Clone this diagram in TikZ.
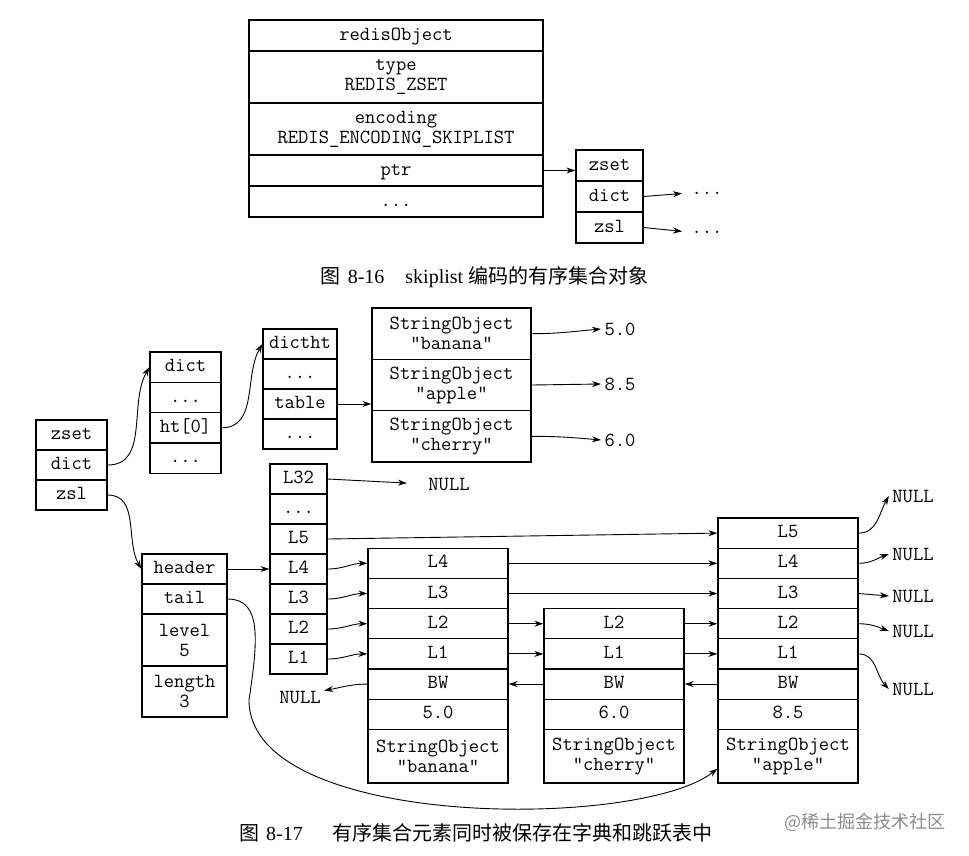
\documentclass[tikz,border=0pt]{standalone}
\usepackage{fontspec}
\setmainfont{Liberation Serif}
\newfontfamily\cjk{Noto Sans CJK SC}
\usetikzlibrary{arrows.meta}
\begin{document}
\begin{tikzpicture}[x=1pt,y=1pt,
		cell/.style={draw,line width=1.3pt,inner sep=0pt,font=\ttfamily\fontsize{20}{20}\selectfont,text height=12pt,text depth=3pt},
		tallcell/.style={draw,line width=1.3pt,inner sep=0pt,font=\ttfamily\fontsize{20}{20}\selectfont,align=center},
		word/.style={font=\ttfamily\fontsize{20}{20}\selectfont},
		caption/.style={font=\fontsize{20}{24}\selectfont},
		link/.style={->,line width=0.9pt},
		>={Stealth[length=9pt,width=6pt]}]
		\useasboundingbox (0,0) rectangle (969,-855);

		% figure 8-16
		\node[cell,minimum width=294pt,minimum height=31pt](robj) at (396,-35.5) {redisObject};
		\node[tallcell,minimum width=294pt,minimum height=52pt](rtype) at (396,-77) {type\\REDIS\_ZSET};
		\node[tallcell,minimum width=294pt,minimum height=52pt](renc) at (396,-129) {encoding\\REDIS\_ENCODING\_SKIPLIST};
		\node[cell,minimum width=294pt,minimum height=31pt](rptr) at (396,-170.5) {ptr};
		\node[cell,minimum width=294pt,minimum height=31pt](rmore) at (396,-201.5) {...};

		\node[cell,minimum width=67pt,minimum height=31pt](azset) at (609.5,-165.5) {zset};
		\node[cell,minimum width=67pt,minimum height=31pt](adict) at (609.5,-196.5) {dict};
		\node[cell,minimum width=67pt,minimum height=31pt](azsl) at (609.5,-227.5) {zsl};
		\node[word](adictmore) at (707,-193) {...};
		\node[word](azslmore) at (707,-232) {...};

		\path [link](rptr.east) edge (rptr.east -| azset.west);
		\path [link](adict.east) edge[shorten >=6pt] (adictmore.west);
		\path [link](azsl.east) edge[shorten >=6pt] (azslmore.west);

		\node[caption](cap1) at (484.5,-277) {{\cjk 图}\hspace{7pt}8-16\hspace{21pt}skiplist {\cjk 编码的有序集合对象}};

		% figure 8-17: zset, dict, dictht
		\node[cell,minimum width=71pt,minimum height=30pt](bzset) at (71.5,-435) {zset};
		\node[cell,minimum width=71pt,minimum height=30pt](bdict) at (71.5,-465) {dict};
		\node[cell,minimum width=71pt,minimum height=30pt](bzsl) at (71.5,-495) {zsl};

		\node[cell,minimum width=71pt,minimum height=30.3pt](ddict) at (185.5,-367.2) {dict};
		\node[cell,minimum width=71pt,minimum height=30.3pt](dmore1) at (185.5,-397.5) {...};
		\node[cell,minimum width=71pt,minimum height=30.3pt](dht) at (185.5,-427.8) {ht[0]};
		\node[cell,minimum width=71pt,minimum height=30.3pt](dmore2) at (185.5,-458) {...};

		\node[cell,minimum width=74pt,minimum height=30pt](tdictht) at (300,-344) {dictht};
		\node[cell,minimum width=74pt,minimum height=30pt](tmore1) at (300,-374) {...};
		\node[cell,minimum width=74pt,minimum height=30pt](ttable) at (300,-404) {table};
		\node[cell,minimum width=74pt,minimum height=30pt](tmore2) at (300,-434) {...};

		\node[tallcell,minimum width=159pt,minimum height=51.3pt](sbanana) at (451.5,-333.7) {StringObject\\"banana"};
		\node[tallcell,minimum width=159pt,minimum height=51.3pt](sapple) at (451.5,-385) {StringObject\\"apple"};
		\node[tallcell,minimum width=159pt,minimum height=51.3pt](scherry) at (451.5,-436.3) {StringObject\\"cherry"};
		\node[word](vbanana) at (620,-329) {5.0};
		\node[word](vapple) at (620,-384) {8.5};
		\node[word](vcherry) at (620,-440) {6.0};

		\path [link](bdict.east) edge[out=0,in=-120] (ddict.west);
		\path [link](dht.east) edge[out=0,in=-120] (tdictht.west);
		\path [link](ttable.east) edge (ttable.east -| sapple.west);
		\path [link](sbanana.east) edge[out=0,in=185] (vbanana.west);
		\path [link](sapple.east) edge (vapple.west);
		\path [link](scherry.east) edge[out=0,in=175] (vcherry.west);

		% skiplist header and levels
		\node[cell,minimum width=85pt,minimum height=30pt](hheader) at (184.5,-569) {header};
		\node[cell,minimum width=85pt,minimum height=30pt](htail) at (184.5,-599) {tail};
		\node[tallcell,minimum width=85pt,minimum height=52pt](hlevel) at (184.5,-640) {level\\5};
		\node[tallcell,minimum width=85pt,minimum height=51pt](hlength) at (184.5,-691.5) {length\\3};

		\node[cell,minimum width=57pt,minimum height=30pt](lv32) at (298.5,-479) {L32};
		\node[cell,minimum width=57pt,minimum height=30pt](lvmore) at (298.5,-509) {...};
		\node[cell,minimum width=57pt,minimum height=30pt](lv5) at (298.5,-539) {L5};
		\node[cell,minimum width=57pt,minimum height=30pt](lv4) at (298.5,-569) {L4};
		\node[cell,minimum width=57pt,minimum height=30pt](lv3) at (298.5,-599) {L3};
		\node[cell,minimum width=57pt,minimum height=30pt](lv2) at (298.5,-629) {L2};
		\node[cell,minimum width=57pt,minimum height=30pt](lv1) at (298.5,-659) {L1};
		\node[word](null32) at (449,-484) {NULL};

		% skiplist nodes
		\node[cell,minimum width=140pt,minimum height=30.2pt](bL4) at (438,-563.3) {L4};
		\node[cell,minimum width=140pt,minimum height=30.2pt](bL3) at (438,-593.5) {L3};
		\node[cell,minimum width=140pt,minimum height=30.2pt](bL2) at (438,-623.7) {L2};
		\node[cell,minimum width=140pt,minimum height=30.2pt](bL1) at (438,-653.9) {L1};
		\node[cell,minimum width=140pt,minimum height=30.2pt](bBW) at (438,-684.1) {BW};
		\node[cell,minimum width=140pt,minimum height=30.2pt](bval) at (438,-714.3) {5.0};
		\node[tallcell,minimum width=140pt,minimum height=53.6pt](bobj) at (438,-756.2) {StringObject\\"banana"};

		\node[cell,minimum width=140pt,minimum height=30.2pt](cL2) at (614,-623.7) {L2};
		\node[cell,minimum width=140pt,minimum height=30.2pt](cL1) at (614,-653.9) {L1};
		\node[cell,minimum width=140pt,minimum height=30.2pt](cBW) at (614,-684.1) {BW};
		\node[cell,minimum width=140pt,minimum height=30.2pt](cval) at (614,-714.3) {6.0};
		\node[tallcell,minimum width=140pt,minimum height=53.6pt](cobj) at (614,-756.2) {StringObject\\"cherry"};

		\node[cell,minimum width=140pt,minimum height=30.2pt](aL5) at (788,-533.1) {L5};
		\node[cell,minimum width=140pt,minimum height=30.2pt](aL4) at (788,-563.3) {L4};
		\node[cell,minimum width=140pt,minimum height=30.2pt](aL3) at (788,-593.5) {L3};
		\node[cell,minimum width=140pt,minimum height=30.2pt](aL2) at (788,-623.7) {L2};
		\node[cell,minimum width=140pt,minimum height=30.2pt](aL1) at (788,-653.9) {L1};
		\node[cell,minimum width=140pt,minimum height=30.2pt](aBW) at (788,-684.1) {BW};
		\node[cell,minimum width=140pt,minimum height=30.2pt](aval) at (788,-714.3) {8.5};
		\node[tallcell,minimum width=140pt,minimum height=53.6pt](aobj) at (788,-756.2) {StringObject\\"apple"};

		\node[word](nbw) at (300,-697) {NULL};
		\node[word](n5) at (913,-496) {NULL};
		\node[word](n4) at (913,-554) {NULL};
		\node[word](n3) at (913,-596) {NULL};
		\node[word](n2) at (913,-631) {NULL};
		\node[word](n1) at (913,-689) {NULL};

		\path [link](bzsl.east) edge[out=0,in=120] (hheader.west);
		\path [link](hheader.east) edge (lv4.west);
		\path [link](lv32.east) edge[shorten >=18pt] (null32.west);
		\path [link](lv5.east) edge (aL5.west);
		\path [link](lv4.east) edge[out=0,in=180] (bL4.west);
		\path [link](lv3.east) edge[out=0,in=180] (bL3.west);
		\path [link](lv2.east) edge[out=0,in=180] (bL2.west);
		\path [link](lv1.east) edge[out=0,in=180] (bL1.west);

		\path [link](bL4.east) edge (aL4.west);
		\path [link](bL3.east) edge (aL3.west);
		\path [link](bL2.east) edge (cL2.west);
		\path [link](bL1.east) edge (cL1.west);
		\path [link](cL2.east) edge (aL2.west);
		\path [link](cL1.east) edge (aL1.west);

		\path [link](aBW.west) edge (cBW.east);
		\path [link](cBW.west) edge (bBW.east);
		\path [link](bBW.west) edge[out=180,in=10] (nbw.15);

		\path [link](aL5.east) edge[out=0,in=-120] (n5.west);
		\path [link](aL4.east) edge[out=0,in=200] (n4.west);
		\path [link](aL3.east) edge (n3.west);
		\path [link](aL2.east) edge[out=0,in=160] (n2.west);
		\path [link](aL1.east) edge[out=0,in=135] (n1.west);

		% tail pointer
		\coordinate(tailbend) at (249,-700);
		\draw [link](htail.east) .. controls (262,-599) and (258,-640) .. (tailbend)
			.. controls (249,-830) and (640,-830) .. (aobj.190);

		\node[caption](cap2) at (476,-833) {{\cjk 图}\hspace{7pt}8-17\hspace{30pt}{\cjk 有序集合元素同时被保存在字典和跳跃表中}};
		\node[font=\cjk\fontsize{18}{20}\selectfont,text=black!45](wm) at (865,-822) {@稀土掘金技术社区};
	\end{tikzpicture}
\end{document}
